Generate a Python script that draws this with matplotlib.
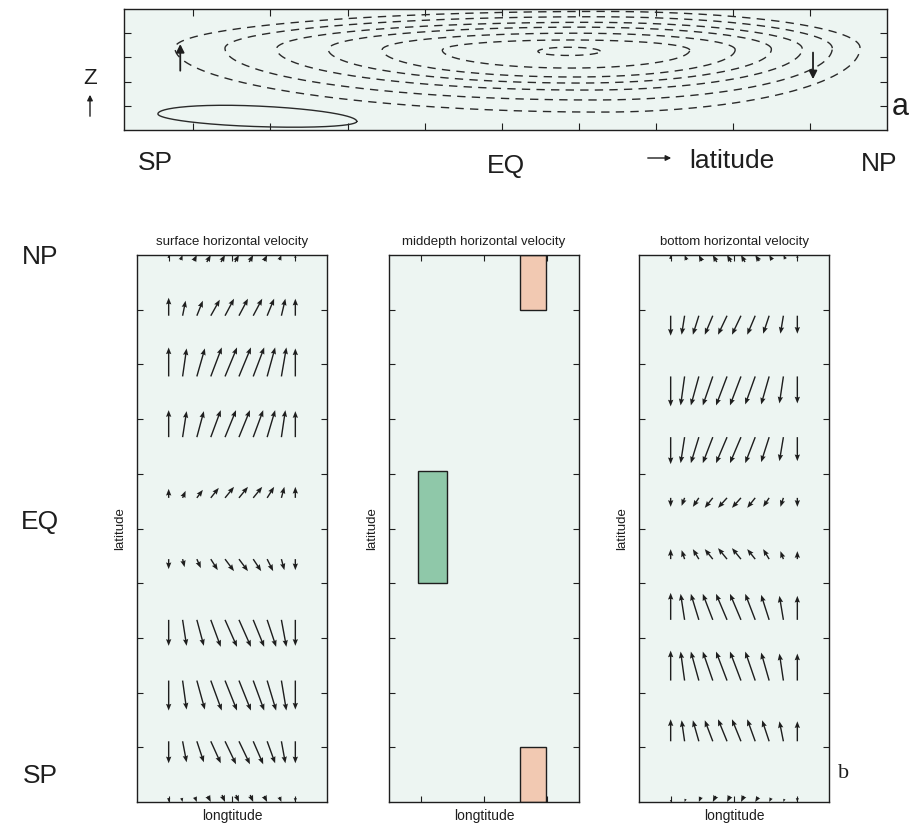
import numpy as np
import matplotlib
matplotlib.use("Agg")
import matplotlib.pyplot as plt
from matplotlib.patches import Rectangle, FancyArrowPatch

plt.rcParams["font.family"] = ["Liberation Sans", "DejaVu Sans"]

W, H = 913, 832
BG = "#edf5f2"
INK = "#1e1e1e"

# ---- panel a: meridional overturning streamlines ----
ring_left = [0.76, 1.41, 2.08, 2.75, 3.45, 4.23, 5.47]
ring_right = [9.65, 9.29, 8.90, 8.50, 8.03, 7.44, 6.28]
ring_mid = [6.30, 6.20, 6.10, 6.00, 5.95, 5.90, 5.87]
ring_top = [4.90, 4.68, 4.45, 4.25, 4.00, 3.72, 3.42]
ring_bottom = [0.74, 1.24, 1.65, 1.94, 2.19, 2.56, 3.08]
ring_end_y = [3.40, 3.38, 3.36, 3.34, 3.32, 3.30, 3.25]

# small solid cell near the bottom (left, right, mid, top, bottom, end y, tilt)
cell = [0.54, 3.12, 1.75, 1.0, 0.15, 0.52, -0.12]

# vertical-velocity arrows in panel a: x, tail z, head z
wz_x = [0.83, 9.04]
wz_tail = [2.45, 3.20]
wz_head = [3.55, 2.10]

# ---- panel b: horizontal velocity on a 10 x 10 grid ----
lon_cols = [1.0, 1.44, 1.89, 2.33, 2.78, 3.22, 3.67, 4.11, 4.56, 5.0]
lat_rows = [0.0, 1.11, 2.22, 3.33, 4.44, 5.56, 6.67, 7.78, 8.89, 10.0]

surface_u = [
    [0, 1, 2, 3, 3, 3, 3, 3, 2, 0],
    [0, 4, 7, 10, 11, 11, 10, 8, 4, 0],
    [0, 4, 8, 11, 12, 12, 11, 9, 5, 0],
    [0, 4, 7, 10, 12, 12, 11, 9, 5, 0],
    [0, 2, 4, 7, 9, 9, 8, 6, 3, 0],
    [0, 3, 6, 8, 9, 9, 9, 7, 3, 0],
    [0, 4, 7, 10, 11, 11, 10, 8, 4, 0],
    [0, 4, 8, 11, 12, 12, 11, 8, 5, 0],
    [0, 3, 6, 9, 9, 9, 9, 7, 4, 0],
    [0, 2, 3, 4, 4, 4, 4, 3, 2, 0],
]
surface_v = [
    [-4, -4, -5, -6, -7, -7, -7, -6, -5, -4],
    [-22, -21, -21, -22, -23, -23, -23, -22, -22, -22],
    [-30, -29, -29, -30, -30, -30, -30, -30, -30, -29],
    [-26, -26, -26, -27, -27, -27, -27, -27, -27, -26],
    [-10, -8, -9, -11, -12, -12, -12, -12, -11, -11],
    [9, 7, 8, 10, 11, 11, 11, 11, 11, 11],
    [27, 26, 26, 27, 27, 27, 27, 27, 27, 26],
    [29, 28, 28, 29, 29, 29, 29, 29, 29, 28],
    [18, 15, 15, 16, 17, 17, 17, 17, 17, 17],
    [3, 5, 6, 7, 7, 7, 7, 6, 5, 3],
]
bottom_u = [
    [0, -1, -2, -3, -3, -3, -3, -2, -1, 0],
    [0, -3, -6, -8, -9, -9, -8, -7, -4, 0],
    [0, -4, -8, -10, -11, -11, -10, -8, -4, 0],
    [0, -4, -8, -10, -11, -11, -10, -8, -4, 0],
    [0, -3, -6, -8, -9, -9, -8, -6, -3, 0],
    [0, -3, -6, -8, -9, -9, -8, -6, -3, 0],
    [0, -4, -8, -10, -11, -11, -10, -8, -4, 0],
    [0, -4, -8, -10, -11, -11, -10, -8, -4, 0],
    [0, -3, -6, -8, -9, -9, -8, -6, -3, 0],
    [0, -2, -3, -4, -4, -4, -4, -3, -2, 0],
]
bottom_v = [
    [-2, -3, -5, -6, -6, -6, -5, -4, -3, -4],
    [22, 21, 21, 21, 22, 22, 22, 21, 20, 20],
    [30, 29, 29, 29, 29, 29, 29, 28, 27, 27],
    [27, 26, 26, 26, 26, 26, 26, 25, 24, 24],
    [10, 9, 10, 10, 11, 11, 10, 10, 8, 8],
    [-9, -8, -9, -10, -10, -10, -10, -9, -9, -9],
    [-27, -26, -26, -26, -26, -26, -26, -25, -24, -24],
    [-30, -29, -29, -29, -29, -29, -28, -28, -27, -27],
    [-20, -19, -19, -19, -19, -19, -19, -18, -18, -18],
    [4, 5, 6, 7, 7, 7, 6, 5, 4, 3],
]

# middepth panel: shaded boxes (x0, x1, y0, y1, colour)
box_x0 = [0.92, 4.15, 4.15]
box_x1 = [1.83, 4.96, 4.96]
box_y0 = [4.0, 9.0, 0.0]
box_y1 = [6.06, 10.0, 1.0]
box_color = ["#8fc8a9", "#f2c9b2", "#f2c9b2"]

panel_titles = ["surface horizontal velocity", "middepth horizontal velocity",
                "bottom horizontal velocity"]


def fx(px):
    return px / W


def fy(py):
    return 1 - py / H


def style_axes(ax, length):
    ax.set_facecolor(BG)
    ax.tick_params(direction="in", top=True, right=True, length=length, width=0.8,
                   labelleft=False, labelbottom=False, color=INK)
    for s in ax.spines.values():
        s.set_linewidth(1.0)
        s.set_color(INK)


def loop(xl, xr, xm, yt, yb, y0, tilt=0.0, n=400):
    t = np.linspace(0, 2 * np.pi, n)
    c, s = np.cos(t), np.sin(t)
    x = np.where(c < 0, xm + (xm - xl) * c, xm + (xr - xm) * c)
    y = np.where(s > 0, y0 + (yt - y0) * s, y0 + (y0 - yb) * s) + tilt * (x - xm)
    return x, y


fig = plt.figure(figsize=(W / 100, H / 100), dpi=100)

# ---- panel a ----
ax = fig.add_axes([fx(124), fy(130), fx(763), 121 / H])
style_axes(ax, 5)
ax.set_xlim(0.1, 10)
ax.set_ylim(0, 5)
ax.set_xticks(range(1, 10))
ax.set_yticks([1, 2, 3, 4])
for p in zip(ring_left, ring_right, ring_mid, ring_top, ring_bottom, ring_end_y):
    x, y = loop(*p)
    ax.plot(x, y, ls=(0, (6, 4.5)), lw=1.0, color="#2a2a2a")
x, y = loop(*cell)
ax.plot(x, y, lw=1.0, color="#2a2a2a")
for xa, z0, z1 in zip(wz_x, wz_tail, wz_head):
    ax.annotate("", xy=(xa, z1), xytext=(xa, z0),
                arrowprops=dict(arrowstyle="-|>", lw=1.3, color=INK, mutation_scale=12,
                                shrinkA=0, shrinkB=0))

fig.text(fx(155), fy(163), "SP", fontsize=19, ha="center", va="center", color=INK)
fig.text(fx(506), fy(166), "EQ", fontsize=19, ha="center", va="center", color=INK)
fig.text(fx(732), fy(161), "latitude", fontsize=19, ha="center", va="center", color=INK)
fig.text(fx(879), fy(164), "NP", fontsize=19, ha="center", va="center", color=INK)
fig.text(fx(900), fy(107), "a", fontsize=22, ha="center", va="center", color=INK)
fig.text(fx(90), fy(78), "Z", fontsize=16, ha="center", va="center", color=INK)
for p0, p1 in [((645, 158), (674, 158)), ((90, 119), (90, 92))]:
    fig.patches.append(FancyArrowPatch(
        (fx(p0[0]), fy(p0[1])), (fx(p1[0]), fy(p1[1])), transform=fig.transFigure,
        arrowstyle="-|>", mutation_scale=8, lw=1.0, color=INK))

# ---- panel b ----
lefts = [137, 389, 639]
X, Y = np.meshgrid(lon_cols, lat_rows)
qkw = dict(angles="uv", scale_units="dots", scale=1, units="dots", width=1.4,
           headwidth=3.8, headlength=4.8, headaxislength=4.3, color=INK)
for i, left in enumerate(lefts):
    ax = fig.add_axes([fx(left), fy(802), 190 / W, 547 / H])
    style_axes(ax, 4)
    ax.set_xlim(0, 6)
    ax.set_ylim(0, 10)
    ax.set_xticks([1, 3, 5])
    ax.set_yticks(range(1, 10))
    ax.text(0.5, 1.024, panel_titles[i], transform=ax.transAxes, ha="center",
            va="center", fontsize=9.5, color=INK)
    ax.text(-0.09, 0.5, "latitude", transform=ax.transAxes, rotation=90,
            ha="center", va="center", fontsize=9.5, color=INK)
    ax.text(0.5, -0.026, "longtitude", transform=ax.transAxes, ha="center",
            va="center", fontsize=10, color=INK)
    if i == 1:
        for x0, x1, y0, y1, c in zip(box_x0, box_x1, box_y0, box_y1, box_color):
            ax.add_patch(Rectangle((x0, y0), x1 - x0, y1 - y0, facecolor=c,
                                   edgecolor=INK, lw=1.0))
        continue
    U = np.array(surface_u if i == 0 else bottom_u, dtype=float)
    V = np.array(surface_v if i == 0 else bottom_v, dtype=float)
    ax.quiver(X[1:-1], Y[1:-1], U[1:-1], V[1:-1], pivot="tail", **qkw)
    ax.quiver(X[[0, -1]], Y[[0, -1]], U[[0, -1]], V[[0, -1]], pivot="tip", **qkw)

for lab, py in zip(["NP", "EQ", "SP"], [257, 522, 776]):
    fig.text(fx(40), fy(py), lab, fontsize=19, ha="center", va="center", color=INK)
fig.text(fx(844), fy(773), "b", fontsize=16, ha="center", va="center", color=INK,
         family=["Liberation Serif", "DejaVu Serif"])

fig.savefig("out.png", dpi=100, facecolor="white")
